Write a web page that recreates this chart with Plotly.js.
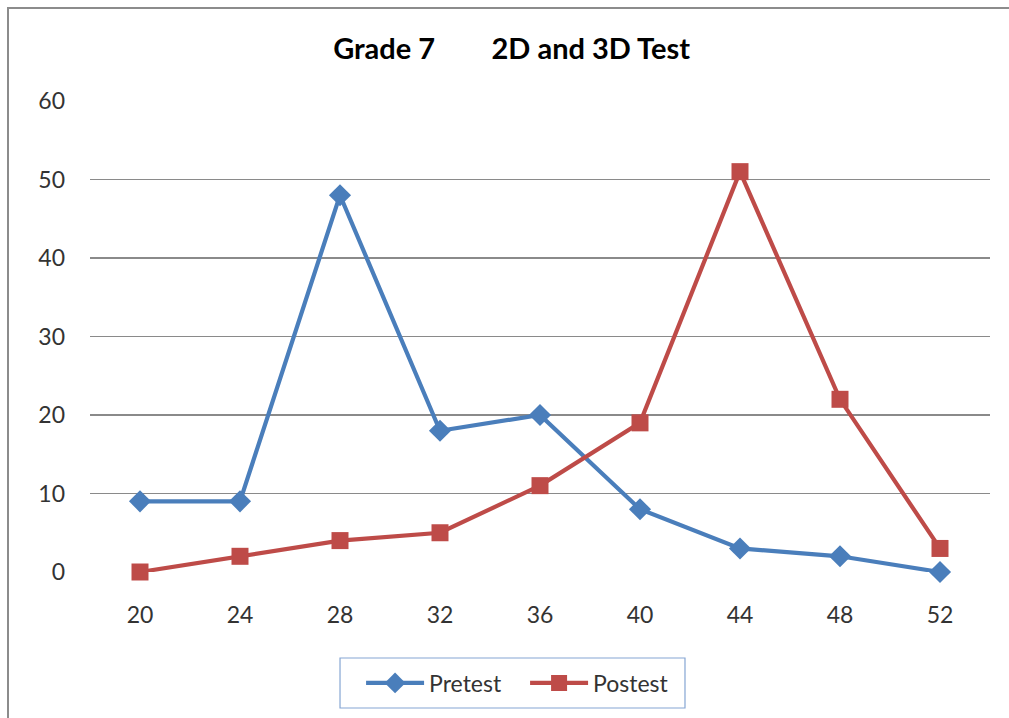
<!DOCTYPE html>
<html>
<head>
<meta charset="utf-8">
<script src="https://cdn.plot.ly/plotly-3.0.1.min.js"></script>
<style>
html,body{margin:0;padding:0;background:#fff;}
#wrap{position:relative;width:1009px;height:718px;overflow:hidden;}
#chart{position:absolute;left:0;top:0;width:1009px;height:718px;}
#frame{position:absolute;left:7px;top:7px;width:1100px;height:800px;border-left:2px solid #8c8c8c;border-top:2px solid #8c8c8c;pointer-events:none;}
</style>
</head>
<body>
<div id="wrap">
<div id="chart"></div>
<div id="frame"></div>
</div>
<script>
const scores = [20, 24, 28, 32, 36, 40, 44, 48, 52];
const pretest = [9, 9, 48, 18, 20, 8, 3, 2, 0];
const postest = [0, 2, 4, 5, 11, 19, 51, 22, 3];
const yTicks = [0, 10, 20, 30, 40, 50, 60];

const font = "Lato, 'Open Sans', sans-serif";

const traces = [
  {x: scores, y: pretest, name: 'Pretest', type: 'scatter', mode: 'lines+markers', cliponaxis: false,
   line: {color: '#4A7EBB', width: 4.2}, marker: {symbol: 'diamond', size: 17, color: '#4A7EBB'}},
  {x: scores, y: postest, name: 'Postest', type: 'scatter', mode: 'lines+markers', cliponaxis: false,
   line: {color: '#BE4B48', width: 4.2}, marker: {symbol: 'square', size: 17, color: '#BE4B48'}}
];

const layout = {
  width: 1009, height: 718,
  margin: {l: 90, r: 19, t: 101, b: 146},
  paper_bgcolor: 'rgba(0,0,0,0)', plot_bgcolor: 'rgba(0,0,0,0)',
  font: {family: font, color: '#333', size: 22},
  title: {text: 'Grade 7&nbsp;&nbsp;&nbsp;&nbsp;&nbsp;&nbsp;&nbsp;&nbsp;2D and 3D Test', x: 0.507, xanchor: 'center', y: 0.932, yanchor: 'middle',
          font: {family: font, size: 29, color: '#000', weight: 'bold'}},
  xaxis: {range: [18, 54], tickvals: scores, ticktext: scores.map(String), showgrid: false, zeroline: false,
          showline: false, ticks: '', ticklabelstandoff: 27, tickfont: {size: 23, color: '#333'}},
  yaxis: {range: [0, 60], tickvals: yTicks, showgrid: true, gridcolor: '#8a8a8a', gridwidth: 1.2,
          zeroline: false, showline: false, ticks: '', ticklabelstandoff: 24, tickfont: {size: 23, color: '#333'}},
  shapes: [
    {type: 'rect', xref: 'paper', yref: 'paper', x0: 0.2778, x1: 0.6611, y0: -0.1826, y1: -0.2887,
     line: {color: '#86A6D3', width: 1.2}, fillcolor: 'rgba(0,0,0,0)'}
  ],
  showlegend: true,
  legend: {orientation: 'h', x: 0.3012, xanchor: 'left', y: -0.2356, yanchor: 'middle',
           borderwidth: 0, bgcolor: 'rgba(0,0,0,0)',
           font: {size: 23, color: '#333', family: font}, itemwidth: 58, entrywidth: 91, entrywidthmode: 'pixels'}
};

Plotly.newPlot('chart', traces, layout, {displayModeBar: false, staticPlot: true});
</script>
</body>
</html>
